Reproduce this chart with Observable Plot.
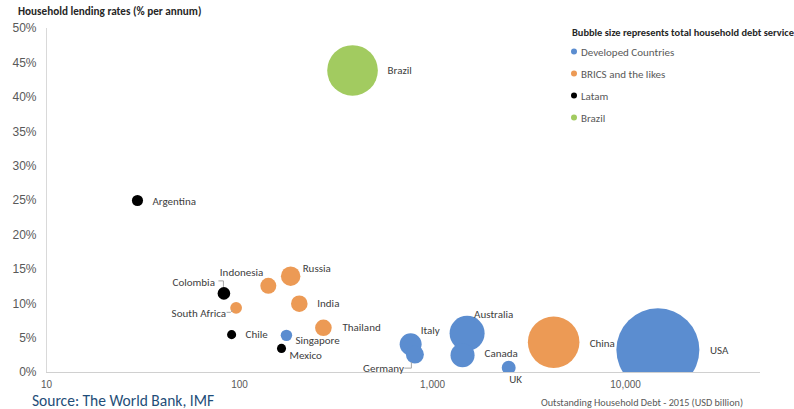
<!DOCTYPE html>
<html><head><meta charset="utf-8">
<script src="https://cdn.jsdelivr.net/npm/d3@7"></script>
<script src="https://cdn.jsdelivr.net/npm/@observablehq/plot@0.6"></script>
<style>
html,body{margin:0;padding:0;background:#fff;}
#wrap{position:relative;width:794px;height:409px;overflow:hidden;font-family:Carlito,Lato,sans-serif;}
#chart svg{display:block;}
.abs{position:absolute;white-space:nowrap;line-height:1;transform:translateY(-50%);}
.leg{position:absolute;white-space:nowrap;line-height:1;transform:translateY(-50%);font-size:11px;color:#595959;}
.leg span.dot{display:inline-block;width:6px;height:6px;border-radius:50%;margin-right:4px;vertical-align:middle;position:relative;top:-1px;}
</style></head><body>
<div id="wrap">
  <div id="chart"></div>
  <div class="abs" id="ytitle" style="left:18px;top:12px;font-size:11.2px;font-weight:bold;color:#262626;">Household lending rates (% per annum)</div>
  <div class="abs" id="legtitle" style="left:572px;top:33px;font-size:10.4px;font-weight:bold;color:#262626;">Bubble size represents total household debt service</div>
  <div id="legend"></div>
  <div class="abs" id="xtitle" style="right:51px;top:403px;font-size:10.2px;color:#595959;">Outstanding Household Debt - 2015 (USD billion)</div>
  <div class="abs" id="source" style="left:32px;top:401px;font-size:15.5px;color:#1f4e79;">Source: The World Bank, IMF</div>
</div>
<script>
// ---- data ----
const countries    = ["USA","China","Brazil","Australia","Canada","Italy","Germany","UK","Russia","India","Indonesia","Thailand","Singapore","Colombia","South Africa","Argentina","Chile","Mexico"];
const groups       = ["Developed Countries","BRICS and the likes","Brazil","Developed Countries","Developed Countries","Developed Countries","Developed Countries","Developed Countries","BRICS and the likes","BRICS and the likes","BRICS and the likes","BRICS and the likes","Developed Countries","Latam","BRICS and the likes","Latam","Latam","Latam"];
const householdDebt = [14700, 4240, 385, 1510, 1430, 770, 810, 2480, 184, 204, 141, 272, 175, 83, 96, 29.6, 91, 165]; // USD bn
const lendingRate  = [0.033, 0.044, 0.439, 0.057, 0.025, 0.041, 0.026, 0.007, 0.140, 0.100, 0.126, 0.065, 0.054, 0.115, 0.094, 0.250, 0.055, 0.035];
const debtService  = [1000, 386, 372, 178, 84, 70, 47, 28, 55, 40, 37, 40, 19, 23, 20, 18, 12, 12]; // relative
const categories   = ["Developed Countries","BRICS and the likes","Latam","Brazil"];
const colors       = ["#5b8dd0","#ec9a55","#000000","#a2cb60"];
const yTicks = [0,0.05,0.10,0.15,0.20,0.25,0.30,0.35,0.40,0.45,0.50];
const xTicks = [10,100,1000,10000];

const data = countries.map((c,i)=>({name:c, group:groups[i], debt:householdDebt[i], rate:lendingRate[i], service:debtService[i]}));

// label placement (pixel offsets from bubble centre)
const labelPlacement = {
  "Brazil":[35,0,"start"], "Argentina":[15,1,"start"], "Colombia":[-9,-11,"end"],
  "Indonesia":[-5,-13,"end"], "Russia":[12,-8,"start"], "South Africa":[-10,6,"end"],
  "India":[18,0,"start"], "Thailand":[19,0,"start"], "Chile":[14,0,"start"],
  "Singapore":[9,5,"start"], "Mexico":[8,7,"start"], "Italy":[10,-14,"start"],
  "Germany":[-11,14,"end"], "Australia":[7,-19,"start"], "Canada":[22,-2,"start"],
  "UK":[7,12,"middle"], "China":[36,1,"start"], "USA":[52,1,"start"]
};
const leaders = {
  "Colombia":"M-5,-12H0V-6",
  "South Africa":"M-9,5H-5L-3,3",
  "Germany":"M-10,14H-3V8"
};

const labelMarks = countries.map(c => {
  const [dx,dy,anchor] = labelPlacement[c];
  return Plot.text(data.filter(d=>d.name===c), {
    x:"debt", y:"rate", text:"name", dx, dy, textAnchor:anchor,
    fontFamily:"Carlito, Lato, sans-serif", fontSize:11, fill:"#404040"
  });
});

const plot = Plot.plot({
  width:794, height:409,
  marginLeft:46, marginRight:34, marginTop:28, marginBottom:37,
  style:{fontFamily:"'Liberation Sans', Arial, sans-serif", color:"#595959", background:"transparent"},
  x:{type:"log", domain:[10,50000]},
  y:{domain:[0,0.5]},
  r:{domain:[0,1000], range:[0,41.5]},
  color:{domain:categories, range:colors},
  marks:[
    Plot.ruleX([10], {y1:0, y2:0.5, stroke:"#d9d9d9"}),
    Plot.axisY({ticks:yTicks, tickFormat:d3.format(".0%"), tickSize:0, tickPadding:10, label:null, fontSize:12}),
    Plot.axisX({ticks:xTicks, tickFormat:d3.format(","), tickSize:0, tickPadding:8, label:null, fontSize:10}),
    Plot.dot(data, {x:"debt", y:"rate", r:"service", fill:"group", clip:"frame"}),
    Plot.ruleY([0], {stroke:"#d0d0d0"}),
    ...labelMarks
  ]
});
document.getElementById("chart").appendChild(plot);

// leader lines using the plot's own scales
const sx = plot.scale("x"), sy = plot.scale("y");
const svg = d3.select(plot);
data.filter(d=>leaders[d.name]).forEach(d=>{
  svg.append("path")
    .attr("transform",`translate(${sx.apply(d.debt)},${sy.apply(d.rate)})`)
    .attr("d", leaders[d.name]).attr("fill","none").attr("stroke","#a6a6a6").attr("stroke-width",1);
});

// legend
const legY = [52,74,96,118];
const leg = d3.select("#legend");
categories.forEach((c,i)=>{
  const el = leg.append("div").attr("class","leg").style("left","571px").style("top",legY[i]+"px");
  el.append("span").attr("class","dot").style("background",colors[i]);
  el.append("span").text(c);
});
</script>
</body></html>
